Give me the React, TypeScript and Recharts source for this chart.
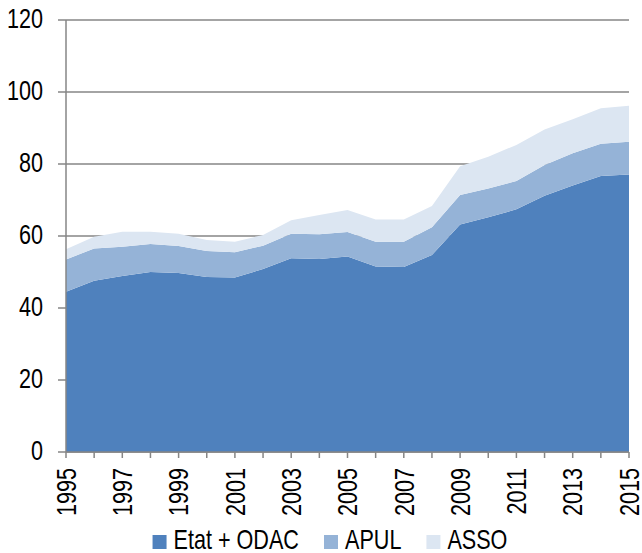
import React from "react";
import { AreaChart, Area, XAxis, YAxis, CartesianGrid, Legend } from "recharts";

const years = [1995, 1996, 1997, 1998, 1999, 2000, 2001, 2002, 2003, 2004, 2005, 2006, 2007, 2008, 2009, 2010, 2011, 2012, 2013, 2014, 2015];
const etat = [44.5, 47.6, 48.9, 50.0, 49.7, 48.6, 48.5, 50.8, 53.8, 53.6, 54.3, 51.5, 51.4, 54.7, 63.2, 65.2, 67.4, 71.2, 74.0, 76.7, 77.1];
const apul = [9.0, 8.9, 8.1, 7.8, 7.5, 7.2, 7.0, 6.5, 6.8, 6.9, 6.8, 6.9, 7.0, 7.7, 8.2, 8.0, 7.9, 8.5, 9.0, 8.9, 9.1];
const asso = [2.8, 3.3, 4.2, 3.4, 3.4, 3.1, 2.9, 3.0, 3.8, 5.3, 6.1, 6.2, 6.2, 5.9, 8.0, 8.8, 10.0, 9.9, 9.4, 9.9, 10.0];
const yTicks = [0, 20, 40, 60, 80, 100, 120];
const seriesKeys = ["etat", "apul", "asso"];
const seriesNames = ["Etat + ODAC", "APUL", "ASSO"];
const seriesColors = ["#4F81BD", "#95B3D7", "#DCE6F2"];

const data = years.map((y, i) => ({ year: y, etat: etat[i], apul: apul[i], asso: asso[i] }));

const FONT = "'Liberation Sans', Arial, sans-serif";
const FS = 27;
const SX = 0.8;
const GRAY = "#868686";

let measureCtx: CanvasRenderingContext2D | null = null;
function textWidth(s: string): number {
  try {
    if (!measureCtx) measureCtx = document.createElement("canvas").getContext("2d");
    if (measureCtx) {
      measureCtx.font = `${FS}px 'Liberation Sans', Arial, sans-serif`;
      return measureCtx.measureText(s).width * SX;
    }
  } catch (e) {}
  return s.length * FS * 0.55 * SX;
}

const XTick = (props: any) => {
  const { x, y, payload } = props;
  if ((payload.value - 1995) % 2 !== 0) return null;
  return (
    <text
      transform={`translate(${x}, ${y}) rotate(-90) scale(${SX}, 1)`}
      x={0}
      y={0}
      textAnchor="end"
      dy="0.36em"
      fontSize={FS}
      fontFamily={FONT}
      fill="#000"
    >
      {payload.value}
    </text>
  );
};

const YTick = (props: any) => {
  const { x, y, payload } = props;
  return (
    <text
      transform={`translate(${x}, ${y}) scale(${SX}, 1)`}
      x={0}
      y={0}
      textAnchor="end"
      dy="0.3em"
      fontSize={FS}
      fontFamily={FONT}
      fill="#000"
    >
      {payload.value}
    </text>
  );
};

const LegendContent = () => {
  const sq = 14;
  const gapIcon = 7;
  const gapItem = 25;
  const widths = seriesNames.map((n) => textWidth(n));
  const total = widths.reduce((a, w) => a + sq + gapIcon + w, 0) + gapItem * (seriesNames.length - 1);
  let cx = 330 - total / 2;
  const items = seriesNames.map((n, i) => {
    const x0 = cx;
    cx += sq + gapIcon + widths[i] + gapItem;
    return (
      <g key={n}>
        <rect x={x0} y={18} width={sq} height={sq} fill={seriesColors[i]} />
        <text
          transform={`translate(${x0 + sq + gapIcon}, 32) scale(${SX}, 1)`}
          x={0}
          y={0}
          fontSize={FS}
          fontFamily={FONT}
          fill="#000"
        >
          {n}
        </text>
      </g>
    );
  });
  return (
    <svg width={642} height={40} style={{ display: "block" }}>
      {items}
    </svg>
  );
};

export default function App() {
  return (
    <div style={{ position: "absolute", left: 0, top: 0, background: "#fff" }}>
      <AreaChart width={642} height={557} data={data} margin={{ top: 20, right: 13, bottom: 0, left: 0 }}>
        <CartesianGrid vertical={false} stroke={GRAY} strokeWidth={1.5} />
        <XAxis
          dataKey="year"
          interval={0}
          tick={<XTick />}
          tickLine={{ stroke: GRAY, strokeWidth: 1.5 }}
          axisLine={{ stroke: GRAY, strokeWidth: 1.5 }}
          tickSize={6}
          tickMargin={10}
          height={65}
        />
        <YAxis
          domain={[0, 120]}
          ticks={yTicks}
          width={66}
          tickSize={8}
          tickMargin={15}
          tick={<YTick />}
          tickLine={{ stroke: GRAY, strokeWidth: 1.5 }}
          axisLine={{ stroke: GRAY, strokeWidth: 1.5 }}
        />
        {seriesKeys.map((k, i) => (
          <Area
            key={k}
            type="linear"
            dataKey={k}
            name={seriesNames[i]}
            stackId="1"
            stroke="none"
            fill={seriesColors[i]}
            fillOpacity={1}
            isAnimationActive={false}
          />
        ))}
        <Legend verticalAlign="bottom" content={<LegendContent />} wrapperStyle={{ left: 0, width: 642, height: 40 }} />
      </AreaChart>
    </div>
  );
}
